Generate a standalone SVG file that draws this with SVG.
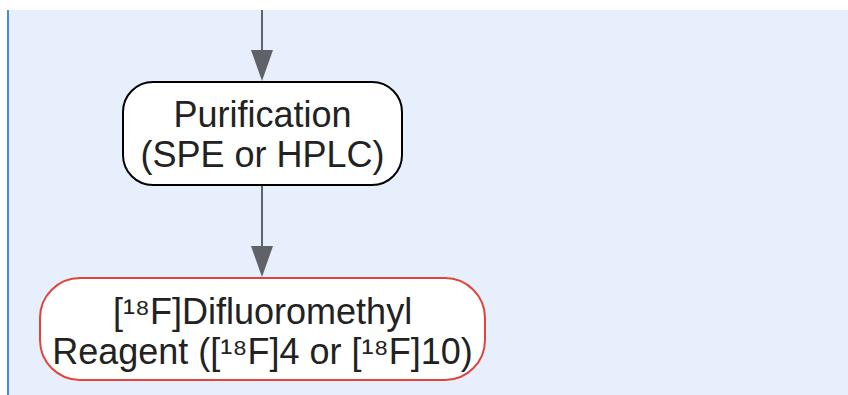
<svg xmlns="http://www.w3.org/2000/svg" width="848" height="395" viewBox="0 0 848 395">
<style>
.lbl{font-family:"Liberation Sans",Arial,sans-serif;font-size:36px;fill:#222222;text-anchor:middle}
.edge{stroke:#5f6368;stroke-width:2;fill:none}
</style>
<rect x="8" y="10" width="840" height="385" fill="#e8effc"/>
<rect x="7" y="10" width="2" height="385" fill="#4a86e8"/>
<g id="connectors">
<path class="edge" d="M262,10 V50"/>
<path d="M251,50 L273,50 L262,81 Z" fill="#5f6368"/>
<path class="edge" d="M262,185 V246"/>
<path d="M251,246 L273,246 L262,277 Z" fill="#5f6368"/>
</g>
<g id="purification">
<rect x="123" y="82" width="279" height="103" rx="30" fill="#ffffff" stroke="#000000" stroke-width="2"/>
<text class="lbl" x="262.5" y="127">Purification</text>
<text class="lbl" x="262.5" y="167">(SPE or HPLC)</text>
</g>
<g id="reagent">
<rect x="40" y="278" width="445" height="102" rx="40" fill="#ffffff" stroke="#e0443a" stroke-width="2"/>
<text class="lbl" x="262.5" y="324">[¹⁸F]Difluoromethyl</text>
<text class="lbl" x="262.5" y="364">Reagent ([¹⁸F]4 or [¹⁸F]10)</text>
</g>
</svg>
